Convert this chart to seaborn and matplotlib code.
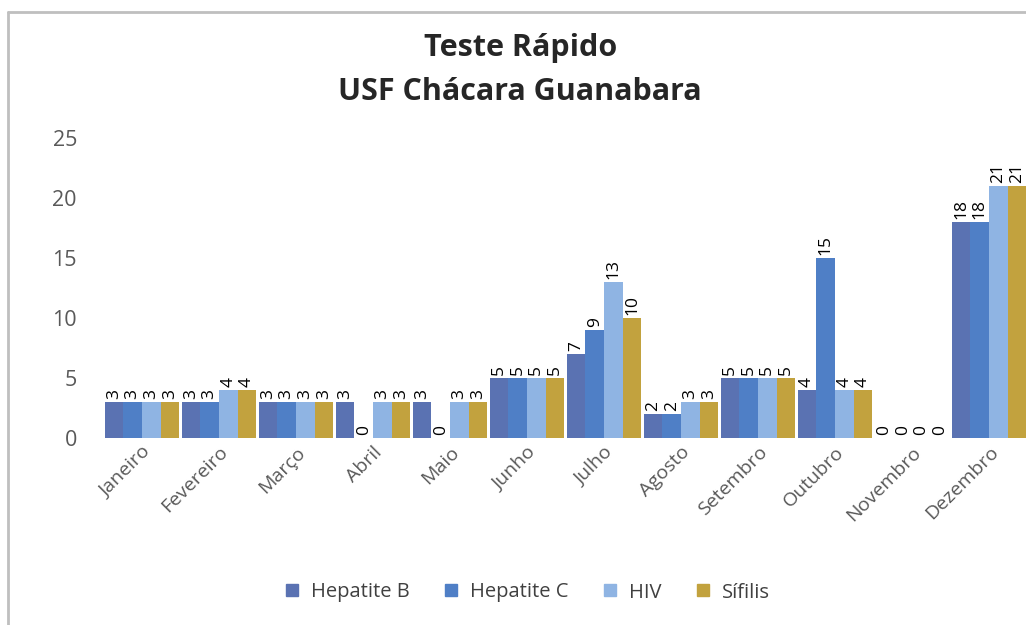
import pandas as pd
import matplotlib.pyplot as plt
import seaborn as sns
from matplotlib.lines import Line2D

# Monthly rapid-test counts
meses = ['Janeiro', 'Fevereiro', 'Março', 'Abril', 'Maio', 'Junho',
         'Julho', 'Agosto', 'Setembro', 'Outubro', 'Novembro', 'Dezembro']
hepatite_b = [3, 3, 3, 3, 3, 5, 7, 2, 5, 4, 0, 18]
hepatite_c = [3, 3, 3, 0, 0, 5, 9, 2, 5, 15, 0, 18]
hiv = [3, 4, 3, 3, 3, 5, 13, 3, 5, 4, 0, 21]
sifilis = [3, 4, 3, 3, 3, 5, 10, 3, 5, 4, 0, 21]
series = ['Hepatite B', 'Hepatite C', 'HIV', 'Sífilis']
colors = ['#5a72b2', '#4f7fc6', '#8fb4e3', '#c2a23e']

df = pd.DataFrame({
    'Mes': meses * 4,
    'Teste': [s for s in series for _ in meses],
    'Valor': hepatite_b + hepatite_c + hiv + sifilis,
})

sns.set_style('white')
plt.rcParams['font.family'] = ['Open Sans', 'DejaVu Sans']

fig = plt.figure(figsize=(10.26, 6.25), dpi=100)
ax = fig.add_axes([0.0926, 0.30, 0.9074, 0.48])

sns.barplot(data=df, x='Mes', y='Valor', hue='Teste', order=meses,
            hue_order=series, palette=colors, width=0.97, ax=ax,
            saturation=1, legend=False, linewidth=0)

for cont in ax.containers:
    ax.bar_label(cont, labels=[f'{int(v)}' for v in cont.datavalues],
                 rotation=90, padding=2, fontsize=12.5, color='black', clip_on=False)

ax.set_xlim(-0.61, 11.48)
ax.set_ylim(0, 25)
ax.set_yticks([0, 5, 10, 15, 20, 25])
ax.set_xlabel('')
ax.set_ylabel('')
ax.tick_params(axis='y', labelsize=15.5, labelcolor='#595959', length=0, pad=13)
ax.tick_params(axis='x', labelsize=14, labelcolor='#595959', length=0, pad=4)
plt.setp(ax.get_xticklabels(), rotation=45, ha='right', rotation_mode='anchor')
sns.despine(ax=ax, left=True, bottom=True, top=True, right=True)

fig.text(0.507, 0.888, 'Teste Rápido\nUSF Chácara Guanabara', ha='center', va='center',
         fontsize=22, fontweight='bold', color='#262626', linespacing=1.6)

handles = [Line2D([], [], marker='s', linestyle='', markersize=9,
                  markerfacecolor=c, markeredgecolor=c) for c in colors]
fig.legend(handles, series, loc='center', bbox_to_anchor=(0.51, 0.052), ncol=4,
           frameon=False, fontsize=14.5, handletextpad=0.2, columnspacing=1.3,
           handlelength=1.5, labelcolor='#404040')

# chart border (left and top edges visible in the reference crop)
fig.add_artist(Line2D([0.008, 0.008], [0, 0.981], transform=fig.transFigure,
                      color='#bfbfbf', lw=2))
fig.add_artist(Line2D([0.008, 1.0], [0.981, 0.981], transform=fig.transFigure,
                      color='#bfbfbf', lw=2))

fig.savefig('out.png', dpi=100)
